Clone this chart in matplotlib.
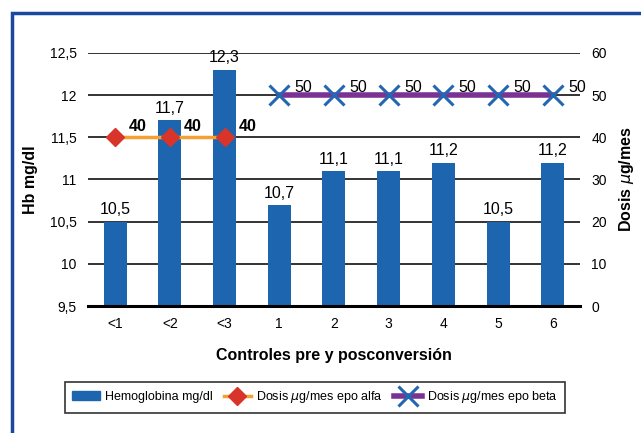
import matplotlib
matplotlib.use("Agg")
import matplotlib.pyplot as plt
from matplotlib.patches import Rectangle, Patch
from matplotlib.lines import Line2D

plt.rcParams['font.family'] = ['Liberation Sans', 'DejaVu Sans']

# Data
categories = ['<1', '<2', '<3', '1', '2', '3', '4', '5', '6']
hemoglobina = [10.5, 11.7, 12.3, 10.7, 11.1, 11.1, 11.2, 10.5, 11.2]
alfa_idx = [0, 1, 2]
dosis_alfa = [40, 40, 40]
beta_idx = [3, 4, 5, 6, 7, 8]
dosis_beta = [50, 50, 50, 50, 50, 50]

bar_color = '#1d65ae'
grid_color = '#333333'

fig = plt.figure(figsize=(6.41, 4.33), dpi=100)
ax = fig.add_axes([0.137, 0.293, 0.768, 0.585])

x = list(range(len(categories)))
ax.bar(x, [h - 9.5 for h in hemoglobina], bottom=9.5, width=0.42,
       color=bar_color, zorder=2)
for xi, h in zip(x, hemoglobina):
    ax.text(xi, h + 0.05, str(h).replace('.', ','), ha='center', va='bottom',
            fontsize=11.5)

ax.set_xlim(-0.5, len(categories) - 0.5)
ax.set_ylim(9.5, 12.5)
yt = [9.5, 10, 10.5, 11, 11.5, 12, 12.5]
ax.set_yticks(yt)
ax.set_yticklabels([str(v).replace('.', ',').replace(',0', '') for v in yt], fontsize=10)
ax.set_xticks(x)
ax.set_xticklabels(categories, fontsize=10)
ax.tick_params(axis='both', length=0, pad=8)
for v in yt[1:]:
    ax.axhline(v, color=grid_color, lw=1.4, zorder=1)
for s in ['top', 'right', 'left']:
    ax.spines[s].set_visible(False)
ax.spines['bottom'].set_linewidth(2.2)
ax.spines['bottom'].set_color('black')
ax.spines['bottom'].set_zorder(3)

ax.set_ylabel('Hb mg/dl', fontsize=11.5, fontweight='bold')
ax.yaxis.set_label_coords(-0.102, 0.5)
ax.set_xlabel('Controles pre y posconversión', fontsize=11.5, fontweight='bold',
              labelpad=12)

# Right axis for doses
ax2 = ax.twinx()
ax2.set_ylim(0, 60)
ax2.set_yticks(range(0, 61, 10))
ax2.tick_params(axis='y', length=0, pad=8, labelsize=10)
for s in ['top', 'right', 'left', 'bottom']:
    ax2.spines[s].set_visible(False)
ax2.set_ylabel('Dosis $\\mu$g/mes', fontsize=11.5, fontweight='bold')
ax2.yaxis.set_label_coords(1.075, 0.5)

ax2.plot(alfa_idx, dosis_alfa, color='#f5a030', lw=2.5, marker='D',
         markersize=9, markerfacecolor='#d8342a', markeredgecolor='#d8342a',
         zorder=4)
for xi, d in zip(alfa_idx, dosis_alfa):
    ax2.annotate(str(d), (xi, d), xytext=(10, 2), textcoords='offset points',
                 fontsize=11.5, fontweight='bold', va='bottom')

ax2.plot(beta_idx, dosis_beta, color='#7a3393', lw=4, marker='x',
         markersize=14, markeredgewidth=2.2, markeredgecolor='#2366b3',
         zorder=4)
for xi, d in zip(beta_idx, dosis_beta):
    ax2.annotate(str(d), (xi, d), xytext=(11, 0), textcoords='offset points',
                 fontsize=11.5, va='bottom')

# Legend
handles = [
    Patch(facecolor=bar_color, edgecolor=bar_color),
    Line2D([], [], color='#f5a030', lw=2.5, marker='D', markersize=9,
           markerfacecolor='#d8342a', markeredgecolor='#d8342a'),
    Line2D([], [], color='#7a3393', lw=4, marker='x', markersize=14,
           markeredgewidth=2.2, markeredgecolor='#2366b3'),
]
labels = ['Hemoglobina mg/dl', 'Dosis $\\mu$g/mes epo alfa',
          'Dosis $\\mu$g/mes epo beta']
leg = fig.legend(handles, labels, loc='center', bbox_to_anchor=(0.491, 0.083),
                 ncol=3, fontsize=9, frameon=True, fancybox=False,
                 edgecolor='black', handlelength=2.2, columnspacing=0.9,
                 borderpad=0.6, handletextpad=0.4)
leg.get_frame().set_linewidth(1.2)

# Outer blue border (cut at right and bottom)
fig.patches.append(Rectangle((12 / 641, -0.1), 1.2, (433 - 13) / 433 + 0.1,
                             transform=fig.transFigure, fill=False,
                             edgecolor='#1a47a0', lw=2.5, clip_on=False))

fig.savefig('out.png', dpi=100)
